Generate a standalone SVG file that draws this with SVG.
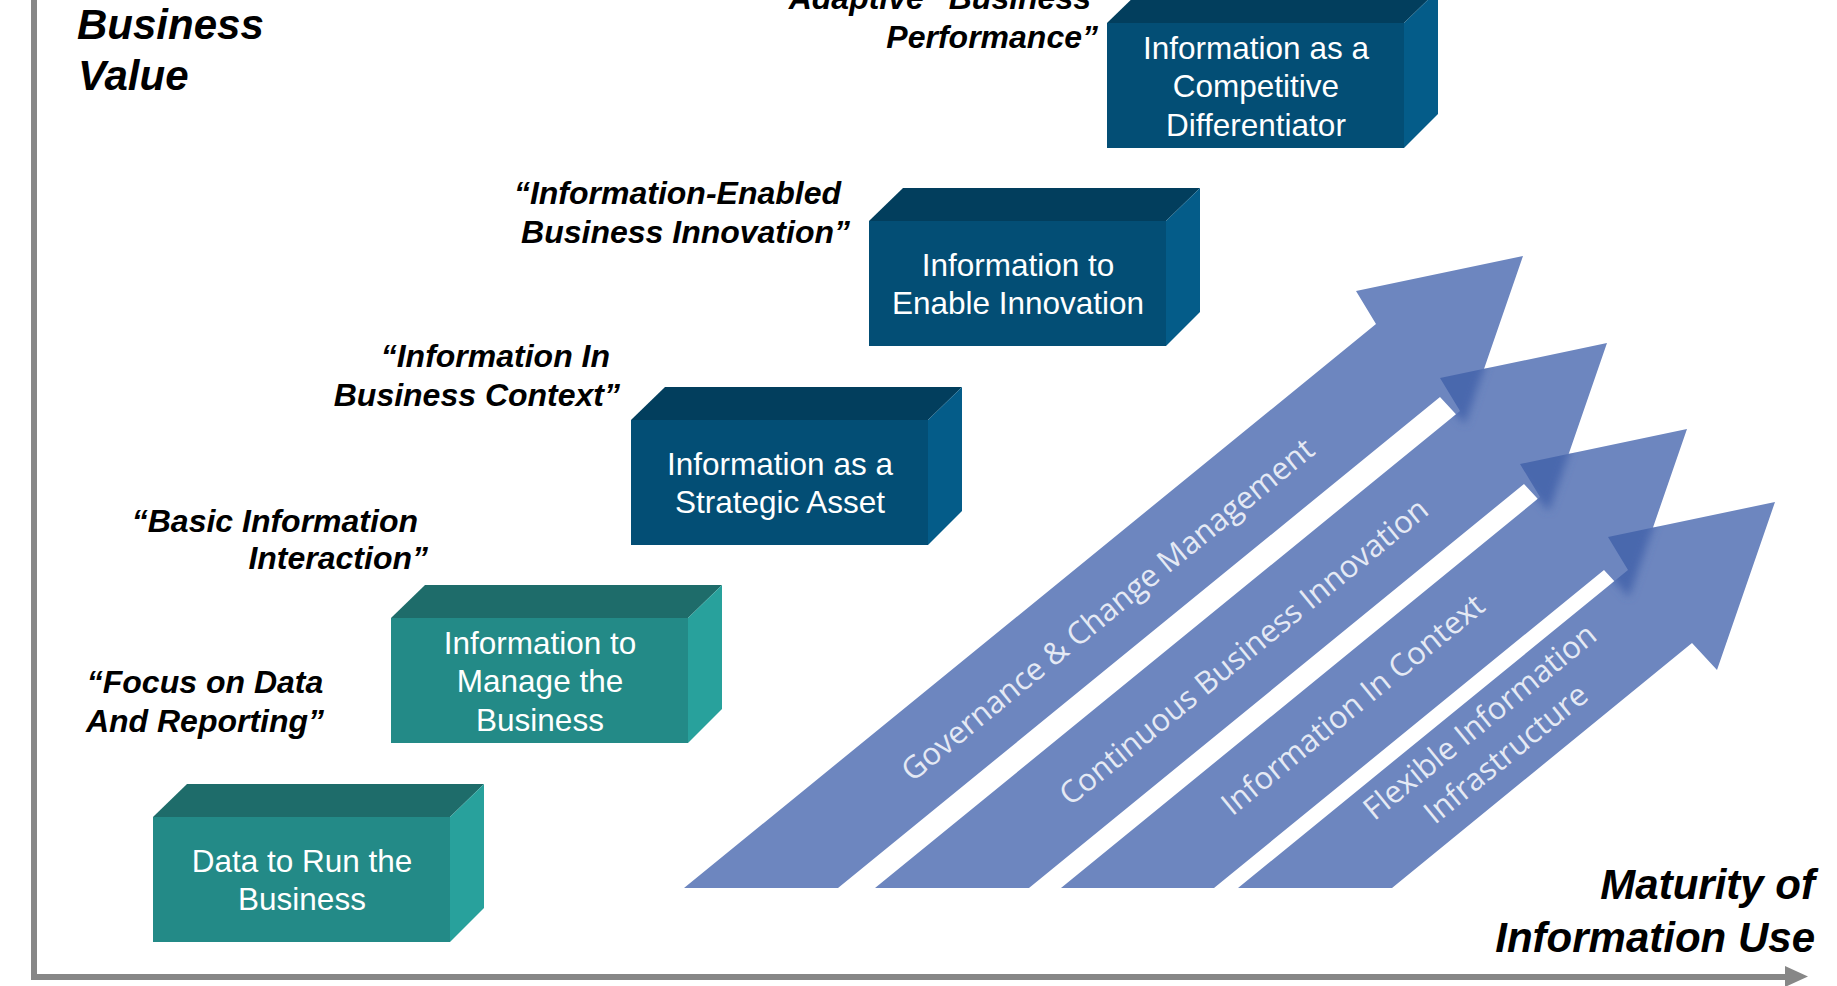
<svg xmlns="http://www.w3.org/2000/svg" width="1837" height="986" viewBox="0 0 1837 986">
<style>
.lbl{font-family:"Liberation Sans",Arial,sans-serif;font-weight:bold;font-style:italic;font-size:32px;fill:#000}
.big{font-size:42px}
.bt{font-family:"Liberation Sans",Arial,sans-serif;font-size:31.5px;fill:#fff;text-anchor:middle}
.teal .front{fill:#238A87}.teal .top{fill:#1E6C6A}.teal .side{fill:#28A19C}
.blue .front{fill:#034E75}.blue .top{fill:#023E5D}.blue .side{fill:#045C89}
.arr{fill:#6D86BF}
.ov{fill:#4A68AD}
.at{font-family:"Open Sans","DejaVu Sans",sans-serif;font-size:31px;fill:#E4E9F4;text-anchor:middle}
.axis{stroke:#878787;stroke-width:6;fill:none}
</style>
<defs>
<filter id="soft" x="-30%" y="-30%" width="160%" height="160%"><feGaussianBlur stdDeviation="4"/></filter>
<clipPath id="c2"><polygon points="875,888 1460,411 1440,378 1607,343 1549,511 1524,484 1029,888"/></clipPath>
<clipPath id="c3"><polygon points="1061,888 1540,497 1520,464 1687,429 1629,597 1604,570 1214,888"/></clipPath>
<clipPath id="c4"><polygon points="1238,888 1628,570 1608,537 1775,502 1717,670 1692,643 1392,888"/></clipPath>
</defs>
<rect width="1837" height="986" fill="#fff"/>

<g id="axes">
<line class="axis" x1="34" y1="0" x2="34" y2="980"/>
<line class="axis" x1="31" y1="977" x2="1788" y2="977"/>
<polygon points="1785,966 1808,976.5 1785,987" fill="#878787"/>
</g>

<g id="connectors">
<g id="arrow1">
<polygon class="arr" points="684,888 1376,324 1356,291 1523,256 1465,424 1440,397 838,888"/>
<text class="at" transform="translate(1108,610) rotate(-39.2)" dy="0.33em">Governance &amp; Change Management</text>
</g>
<g id="arrow2">
<polygon class="arr" points="875,888 1460,411 1440,378 1607,343 1549,511 1524,484 1029,888"/>
<g clip-path="url(#c2)"><polygon class="ov" filter="url(#soft)" points="1415,360 1490,352 1484,369 1465,424 1440,397"/></g>
<text class="at" transform="translate(1244,652) rotate(-39.2)" dy="0.33em">Continuous Business Innovation</text>
</g>
<g id="arrow3">
<polygon class="arr" points="1061,888 1540,497 1520,464 1687,429 1629,597 1604,570 1214,888"/>
<g clip-path="url(#c3)"><polygon class="ov" filter="url(#soft)" points="1495,445 1575,438 1569,454 1549,511 1524,484"/></g>
<text class="at" transform="translate(1353,705) rotate(-39.2)" dy="0.33em">Information In Context</text>
</g>
<g id="arrow4">
<polygon class="arr" points="1238,888 1628,570 1608,537 1775,502 1717,670 1692,643 1392,888"/>
<g clip-path="url(#c4)"><polygon class="ov" filter="url(#soft)" points="1583,520 1660,512 1653,528 1629,597 1604,570"/></g>
<text class="at" transform="translate(1480,722) rotate(-39.2)" dy="0.33em">Flexible Information</text>
<text class="at" transform="translate(1506,754) rotate(-39.2)" dy="0.33em">Infrastructure</text>
</g>
</g>

<g id="block1" class="teal" transform="translate(153,817)">
<polygon class="top" points="0,0 34,-33 331,-33 297,0"/>
<polygon class="side" points="297,0 331,-33 331,91 297,125"/>
<rect class="front" width="297" height="125"/>
<text class="bt" x="149" y="54.5">Data to Run the</text>
<text class="bt" x="149" y="93">Business</text>
</g>
<g id="block2" class="teal" transform="translate(391,618)">
<polygon class="top" points="0,0 34,-33 331,-33 297,0"/>
<polygon class="side" points="297,0 331,-33 331,91 297,125"/>
<rect class="front" width="297" height="125"/>
<text class="bt" x="149" y="35.5">Information to</text>
<text class="bt" x="149" y="74">Manage the</text>
<text class="bt" x="149" y="112.5">Business</text>
</g>
<g id="block3" class="blue" transform="translate(631,420)">
<polygon class="top" points="0,0 34,-33 331,-33 297,0"/>
<polygon class="side" points="297,0 331,-33 331,91 297,125"/>
<rect class="front" width="297" height="125"/>
<text class="bt" x="149" y="54.5">Information as a</text>
<text class="bt" x="149" y="93">Strategic Asset</text>
</g>
<g id="block4" class="blue" transform="translate(869,221)">
<polygon class="top" points="0,0 34,-33 331,-33 297,0"/>
<polygon class="side" points="297,0 331,-33 331,91 297,125"/>
<rect class="front" width="297" height="125"/>
<text class="bt" x="149" y="54.5">Information to</text>
<text class="bt" x="149" y="93">Enable Innovation</text>
</g>
<g id="block5" class="blue" transform="translate(1107,23)">
<polygon class="top" points="0,0 34,-33 331,-33 297,0"/>
<polygon class="side" points="297,0 331,-33 331,91 297,125"/>
<rect class="front" width="297" height="125"/>
<text class="bt" x="149" y="35.5">Information as a</text>
<text class="bt" x="149" y="74">Competitive</text>
<text class="bt" x="149" y="112.5">Differentiator</text>
</g>

<g id="label-focus">
<text class="lbl" x="205" y="693" text-anchor="middle">“Focus on Data</text>
<text class="lbl" x="205" y="732" text-anchor="middle">And Reporting”</text>
</g>
<g id="label-basic">
<text class="lbl" x="418" y="532" text-anchor="end">“Basic Information</text>
<text class="lbl" x="428" y="569" text-anchor="end">Interaction”</text>
</g>
<g id="label-context">
<text class="lbl" x="610" y="367" text-anchor="end">“Information In</text>
<text class="lbl" x="620" y="406" text-anchor="end">Business Context”</text>
</g>
<g id="label-enabled">
<text class="lbl" x="841" y="204" text-anchor="end">“Information-Enabled</text>
<text class="lbl" x="850" y="243" text-anchor="end">Business Innovation”</text>
</g>
<g id="label-adaptive">
<text class="lbl" x="1091" y="9" text-anchor="end">Adaptive” Business</text>
<text class="lbl" x="1098" y="48" text-anchor="end">Performance”</text>
</g>
<g id="label-value">
<text class="lbl big" x="77" y="39">Business</text>
<text class="lbl big" x="78" y="90">Value</text>
</g>
<g id="label-maturity">
<text class="lbl big" x="1815" y="899" text-anchor="end">Maturity of</text>
<text class="lbl big" x="1815" y="952" text-anchor="end">Information Use</text>
</g>
</svg>
